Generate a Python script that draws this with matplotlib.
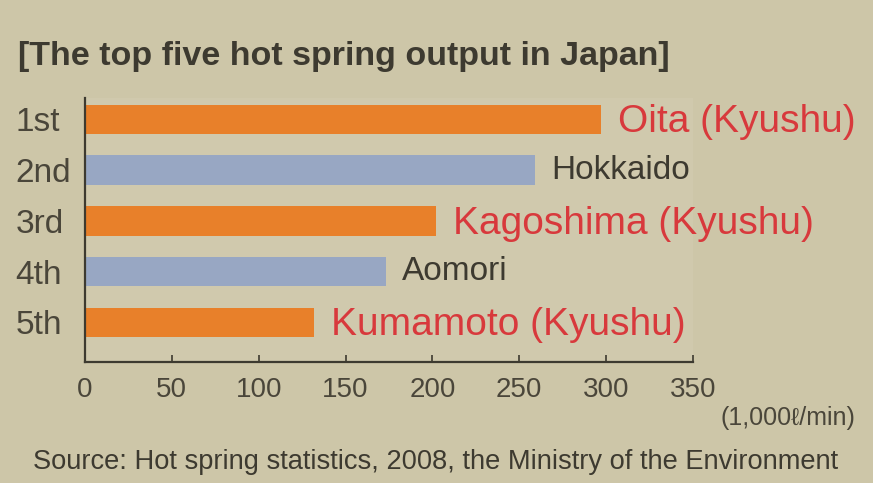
import matplotlib
matplotlib.use('Agg')
import matplotlib.pyplot as plt

plt.rcParams['font.family'] = ['Liberation Sans', 'DejaVu Sans']

# data
ranks = ['1st', '2nd', '3rd', '4th', '5th']
places = ['Oita (Kyushu)', 'Hokkaido', 'Kagoshima (Kyushu)', 'Aomori', 'Kumamoto (Kyushu)']
output = [297, 259, 202, 173, 132]
kyushu = [True, False, True, False, True]
xticks = [0, 50, 100, 150, 200, 250, 300, 350]

bg = '#cdc6a8'
orange = '#e8802a'
blue = '#98a7c3'
red = '#d8393c'
dark = '#3d3a30'

fig = plt.figure(figsize=(8.73, 4.83), dpi=100, facecolor=bg)
ax = fig.add_axes([85 / 873, (483 - 362) / 483, (693 - 85) / 873, (362 - 98) / 483])
ax.set_facecolor('#d0c9ad')

ypos = list(range(len(ranks)))
colors = [orange if k else blue for k in kyushu]
ax.barh(ypos, output, height=0.58, color=colors, zorder=2)

for y, v, name, k in zip(ypos, output, places, kyushu):
    if k:
        ax.annotate(name, (v, y), xytext=(12, -2), textcoords='offset points',
                    va='center', ha='left', fontsize=28, color=red)
    else:
        ax.annotate(name, (v, y), xytext=(12, 0), textcoords='offset points',
                    va='center', ha='left', fontsize=24, color=dark)

ax.set_xlim(0, 350)
ax.set_ylim(4.78, -0.42)
ax.set_xticks(xticks)
ax.set_xticklabels([str(t) for t in xticks], fontsize=20, color='#4a463a')
ax.set_yticks(ypos)
ax.set_yticklabels(ranks, fontsize=24, color='#4a463a', ha='left')
ax.tick_params(axis='y', length=0, pad=50)
ax.tick_params(axis='x', direction='in', length=5, width=1.2, color=dark, pad=11)

for s in ['top', 'right']:
    ax.spines[s].set_visible(False)
for s in ['left', 'bottom']:
    ax.spines[s].set_color(dark)
    ax.spines[s].set_linewidth(1.6)

fig.text(18 / 873, 1 - 57 / 483, '[The top five hot spring output in Japan]',
         fontsize=24.5, fontweight='bold', color=dark, va='center', ha='left')
fig.text(720 / 873, 1 - 418 / 483, '(1,000\u2113/min)', fontsize=18,
         color='#4a463a', va='center', ha='left')
fig.text(33 / 873, 1 - 462 / 483,
         'Source: Hot spring statistics, 2008, the Ministry of the Environment',
         fontsize=19.6, color=dark, va='center', ha='left')

fig.savefig('out.png', dpi=100, facecolor=bg)
